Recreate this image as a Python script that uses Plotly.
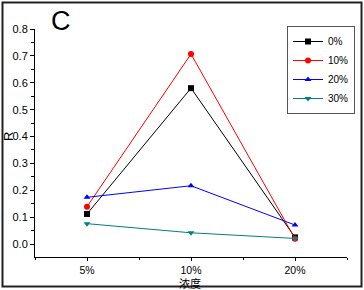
import plotly.graph_objects as go

categories = ["5%", "10%", "20%"]
series_names = ["0%", "10%", "20%", "30%"]
values_0 = [0.112, 0.580, 0.025]
values_10 = [0.139, 0.707, 0.020]
values_20 = [0.174, 0.217, 0.071]
values_30 = [0.076, 0.042, 0.021]

colors = ["#000000", "#ff0000", "#0000ff", "#008080"]
symbols = ["square", "circle", "triangle-up", "triangle-down"]
all_values = [values_0, values_10, values_20, values_30]

W, H = 364, 290
L, R, T, B = 35, 17, 29, 33
pw, ph = W - L - R, H - T - B

x_idx = list(range(len(categories)))

fig = go.Figure()
for name, vals, c, s in zip(series_names, all_values, colors, symbols):
    fig.add_trace(go.Scatter(
        x=x_idx, y=vals, name=name, mode="lines+markers",
        line=dict(color=c, width=1),
        marker=dict(symbol=s, size=6, color=c),
    ))

axis_font = dict(family="Liberation Sans, Arial, sans-serif", size=11, color="#000000")

fig.update_layout(
    width=W, height=H,
    margin=dict(l=L, r=R, t=T, b=B, pad=0, autoexpand=False),
    paper_bgcolor="white", plot_bgcolor="white",
    showlegend=True,
    legend=dict(
        x=(287 - L) / pw, y=(257 - 26) / ph, xanchor="left", yanchor="top",
        bordercolor="#555555", borderwidth=1, bgcolor="white",
        font=dict(family="Liberation Sans, Arial, sans-serif", size=10, color="#000000"),
        tracegroupgap=0, itemwidth=30,
    ),
    xaxis=dict(
        range=[-0.5, 2.5], tickmode="array", tickvals=x_idx, ticktext=categories,
        showline=True, linecolor="#000000", linewidth=1, showgrid=False, zeroline=False,
        ticks="outside", ticklen=3, tickcolor="#000000",
        tickfont=dict(family="Liberation Sans, Arial, sans-serif", size=10.5, color="#000000"),
        automargin=False,
        minor=dict(tickmode="array", tickvals=[-0.5, 0.5, 1.5, 2.5], ticks="outside",
                   ticklen=2, tickcolor="#000000"),
    ),
    yaxis=dict(
        range=[-0.048, 0.8], tickmode="linear", tick0=0, dtick=0.1, tickformat=".1f",
        showline=True, linecolor="#000000", linewidth=1, showgrid=False, zeroline=False,
        ticks="outside", ticklen=4, tickcolor="#000000", tickfont=axis_font,
        automargin=False,
        minor=dict(dtick=0.05, ticks="outside", ticklen=3, tickcolor="#000000"),
    ),
    annotations=[
        dict(text="C", x=(61 - L) / pw, y=(257 - 21) / ph, xref="paper", yref="paper",
             xanchor="center", yanchor="middle", showarrow=False,
             font=dict(family="Liberation Sans, Arial, sans-serif", size=27, color="#000000")),
        dict(text="R", x=(8 - L) / pw, y=(257 - 137) / ph, xref="paper", yref="paper",
             xanchor="center", yanchor="middle", showarrow=False, textangle=-90,
             font=dict(family="Liberation Sans, Arial, sans-serif", size=13, color="#000000")),
        dict(text="浓度", x=(190 - L) / pw, y=(257 - 283) / ph, xref="paper", yref="paper",
             xanchor="center", yanchor="middle", showarrow=False,
             font=dict(family="Noto Sans CJK SC, sans-serif", size=11, color="#000000")),
    ],
    shapes=[
        dict(type="rect", xref="paper", yref="paper",
             x0=(2.5 - L) / pw, x1=(361.5 - L) / pw,
             y0=(257 - 286.5) / ph, y1=(257 - 2.5) / ph,
             line=dict(color="#222222", width=2), layer="above"),
    ],
)

fig.write_html(
    "out.html",
    config={"displayModeBar": False},
    post_script="document.body.style.margin='0';document.body.style.overflow='hidden';",
)
